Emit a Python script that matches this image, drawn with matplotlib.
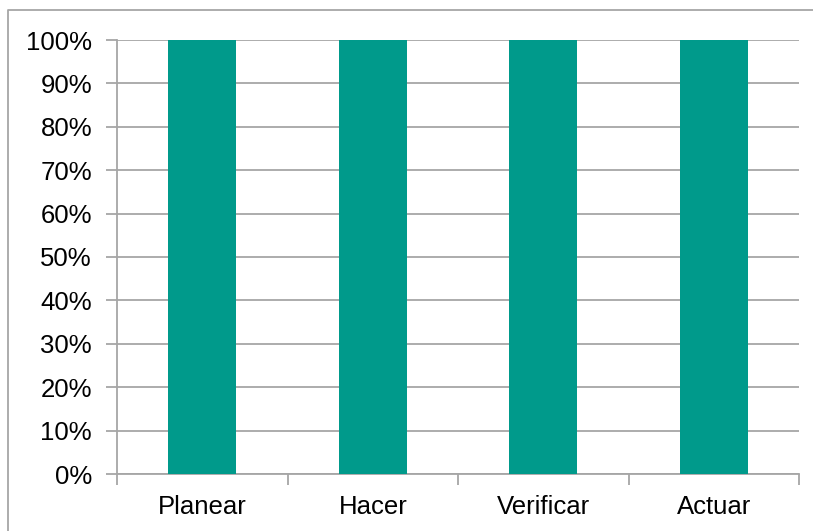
import numpy as np
import matplotlib
matplotlib.use('Agg')
import matplotlib.pyplot as plt
from matplotlib.lines import Line2D

categories = ['Planear', 'Hacer', 'Verificar', 'Actuar']
values = [100, 100, 100, 100]
yticks = [0, 10, 20, 30, 40, 50, 60, 70, 80, 90, 100]

barColor = '#009A8B'
lineColor = '#A6A6A6'
fontSZ = 18.5

plt.rcParams['font.family'] = ['Liberation Sans', 'DejaVu Sans']

W, H = 813, 531
fig = plt.figure(figsize=(W / 100.0, H / 100.0), dpi=100)

# outer chart border (only left and top edges fall inside the picture)
bx, by = 8.0 / W, 1 - 10.0 / H
fig.add_artist(Line2D([bx, bx, 1.0], [0.0, by, by], transform=fig.transFigure,
                      color=lineColor, linewidth=1.3))

left, right, top, bottom = 117, 799, 40, 474
ax = fig.add_axes([left / W, 1 - bottom / H, (right - left) / W, (bottom - top) / H])

idx = np.arange(len(categories))
ax.bar(idx, values, 0.4, color=barColor, zorder=3)

ax.set_xlim(-0.5, len(categories) - 0.5)
ax.set_ylim(0, 100)
ax.set_yticks(yticks)
ax.set_yticklabels([str(v) + '%' for v in yticks], fontsize=fontSZ)
ax.yaxis.grid(True, color=lineColor, linewidth=1.3, zorder=0)

ax.set_xticks(np.arange(len(categories) + 1) - 0.5)
ax.set_xticklabels([])
ax.set_xticks(idx, minor=True)
ax.set_xticklabels(categories, minor=True, fontsize=fontSZ)
ax.tick_params(axis='x', which='minor', length=0, pad=15)
ax.tick_params(axis='x', which='major', length=8, color=lineColor, width=1.3, direction='out')
ax.tick_params(axis='y', length=8, color=lineColor, width=1.3, pad=10)

for s in ['top', 'right']:
    ax.spines[s].set_visible(False)
for s in ['left', 'bottom']:
    ax.spines[s].set_color(lineColor)
    ax.spines[s].set_linewidth(1.3)

fig.savefig('out.png', dpi=100)
